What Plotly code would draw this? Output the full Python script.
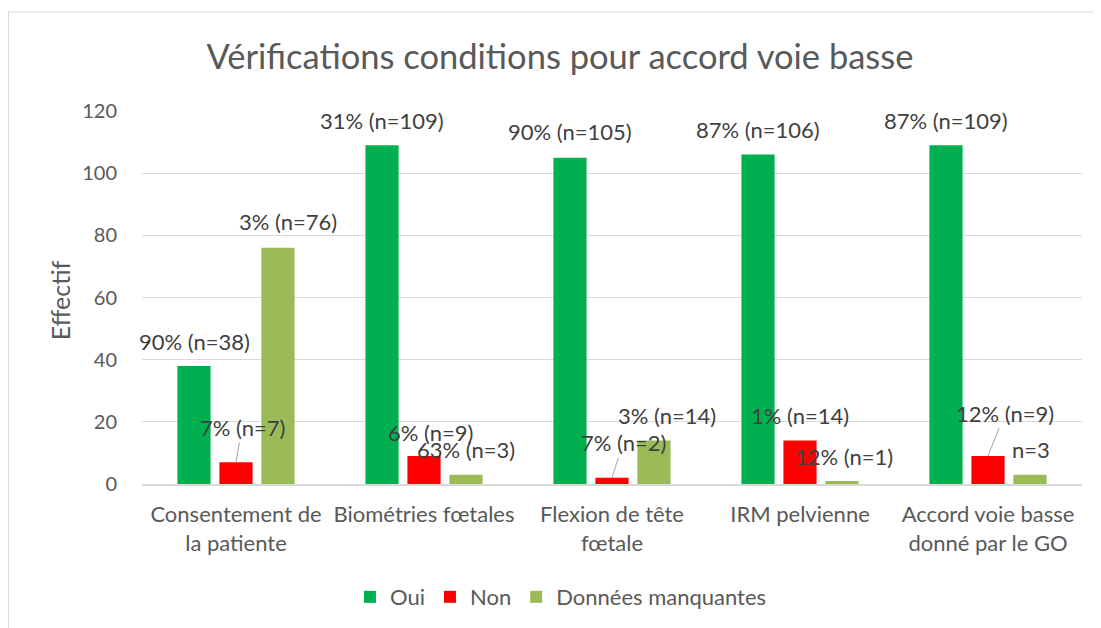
import plotly.graph_objects as go

categories = ["Consentement de<br>la patiente", "Biométries fœtales", "Flexion de tête<br>fœtale",
              "IRM pelvienne", "Accord voie basse<br>donné par le GO"]
series_names = ["Oui", "Non", "Données manquantes"]
oui = [38, 109, 105, 106, 109]
non = [7, 9, 2, 14, 9]
manquantes = [76, 3, 14, 1, 3]
labels_oui = ["90% (n=38)", "31% (n=109)", "90% (n=105)", "87% (n=106)", "87% (n=109)"]
labels_non = ["7% (n=7)", "6% (n=9)", "7% (n=2)", "1% (n=14)", "12% (n=9)"]
labels_manq = ["3% (n=76)", "63% (n=3)", "3% (n=14)", "12% (n=1)", "n=3"]
y_ticks = [0, 20, 40, 60, 80, 100, 120]

colors = ["#00B050", "#FF0000", "#9BBB59"]
text_color = "#595959"
label_color = "#404040"
font_family = "Lato, Carlito, Calibri, sans-serif"

# label placement tweaks (pixel offsets from bar top centre), and leader-line flags
label_dx = [[0, 0, 0, 0, 0], [6, 6, 11, 0, 17], [10, 0, 13, 2, 1]]
label_dy = [[-24, -25, -26, -25, -25], [-35, -24, -35, -25, -43], [-26, -25, -25, -24, -25]]
leader = [[False] * 5, [True, False, True, False, True], [False] * 5]

bargap = 0.33
bargroupgap = 0.21

fig = go.Figure()
all_vals = [oui, non, manquantes]
all_labels = [labels_oui, labels_non, labels_manq]
for name, vals, col in zip(series_names, all_vals, colors):
    fig.add_trace(go.Bar(x=list(range(len(categories))), y=vals, name=name,
                         marker=dict(color=col, line=dict(width=0))))

slot = (1 - bargap) / 3
annotations = []
for j in range(3):
    for i in range(len(categories)):
        xpos = i + (j - 1) * slot
        if leader[j][i]:
            annotations.append(dict(x=xpos, y=all_vals[j][i], xref="x", yref="y",
                                    text=all_labels[j][i], showarrow=True, arrowhead=0,
                                    arrowwidth=1, arrowcolor="#A6A6A6", standoff=0,
                                    ax=label_dx[j][i], ay=label_dy[j][i],
                                    font=dict(size=22, color=label_color, family=font_family)))
        else:
            annotations.append(dict(x=xpos, y=all_vals[j][i], xref="x", yref="y",
                                    text=all_labels[j][i], showarrow=False,
                                    xshift=label_dx[j][i], yshift=-label_dy[j][i],
                                    xanchor="center", yanchor="middle",
                                    font=dict(size=22, color=label_color, family=font_family)))

annotations.append(dict(x=-0.0872, y=0.493, xref="paper", yref="paper", text="Effectif",
                        showarrow=False, textangle=-90, xanchor="center", yanchor="middle",
                        font=dict(size=25, color=text_color, family=font_family)))

fig.update_layout(
    width=1093, height=620,
    paper_bgcolor="white", plot_bgcolor="white",
    margin=dict(l=134, r=19, t=103, b=144, autoexpand=False),
    bargap=bargap, bargroupgap=bargroupgap, barmode="group",
    title=dict(text="Vérifications conditions pour accord voie basse", x=0.505, y=0.921,
               xanchor="center", yanchor="middle", xref="container", yref="container",
               font=dict(size=34.5, color=text_color, family=font_family)),
    font=dict(family=font_family, color=text_color, size=22),
    xaxis=dict(tickmode="array", tickvals=list(range(len(categories))), ticktext=categories,
               range=[-0.5, 4.5], showgrid=False, showline=True, linecolor="#D9D9D9",
               linewidth=1.5, ticks="", ticklabelstandoff=10,
               tickfont=dict(size=22, color=text_color, family=font_family)),
    yaxis=dict(range=[0, 120], tickvals=y_ticks, showgrid=True, gridcolor="#D9D9D9",
               gridwidth=1, zeroline=False, showline=False, ticks="",
               ticklabelstandoff=24,
               tickfont=dict(size=20, color=text_color, family=font_family)),
    legend=dict(orientation="h", x=0.4457, y=-0.303, xanchor="center", yanchor="middle",
                font=dict(size=22, color=text_color, family=font_family),
                itemwidth=30, traceorder="normal"),
    annotations=annotations,
    shapes=[dict(type="rect", xref="paper", yref="paper", x0=-0.1420, x1=1.04,
                 y0=-0.45, y1=1.2654, line=dict(color="#D9D9D9", width=1),
                 fillcolor="rgba(0,0,0,0)", layer="below")],
)

fig.write_html("out.html")
